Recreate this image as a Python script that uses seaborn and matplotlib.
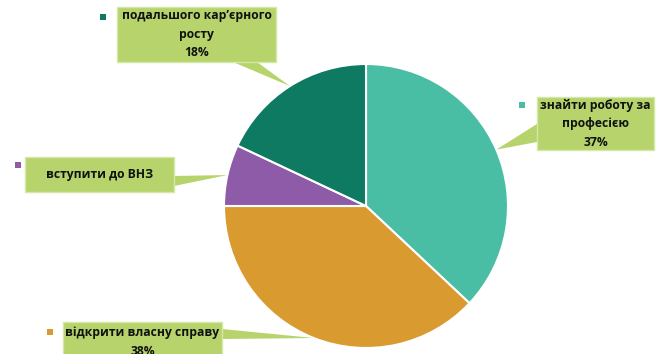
import numpy as np
import matplotlib.pyplot as plt
import seaborn as sns
from matplotlib.patches import Rectangle, Polygon

# Data
labels = ['знайти роботу за\nпрофесією', 'відкрити власну справу',
          'вступити до ВНЗ', 'подальшого кар’єрного\nросту']
values = [37, 38, 7, 18]
show_pct = [True, True, False, True]
colors = ['#4ABEA4', '#D99A2F', '#8E5BA8', '#0E7A61']

sns.set_theme(style='white')
plt.rcParams['font.family'] = ['Open Sans', 'DejaVu Sans']

W, H = 657, 354
fig = plt.figure(figsize=(6.57, 3.54), dpi=100)
ax = fig.add_axes([0, 0, 1, 1])

# pie centre / radius in pixel units
cx, cy, r = 366, H - 206, 142
wedges, _ = ax.pie(values, colors=colors, startangle=90, counterclock=False,
                   center=(cx, cy), radius=r, frame=True,
                   wedgeprops=dict(edgecolor='white', linewidth=1.5))
ax.set_xlim(0, W)
ax.set_ylim(0, H)
ax.set_aspect('equal')
ax.axis('off')

# label boxes (pixels from top-left): x0, y0, x1, y1
boxes = [(537, 97, 654, 150), (63, 322, 222, 362),
         (25, 157, 174, 192), (117, 7, 276, 62)]
bases = [((537, 124), (537, 142)), ((222, 329), (222, 339)),
         ((174, 176), (174, 186)), ((233, 62), (257, 62))]
keys = [(522, 105), (50, 332), (18, 165), (103, 17)]

box_fc = '#B6D46B'
for w, lab, v, pct, col, b, base, k in zip(wedges, labels, values, show_pct,
                                            colors, boxes, bases, keys):
    x0, y0, x1, y1 = b
    ax.add_patch(Rectangle((x0, H - y1), x1 - x0, y1 - y0, fc=box_fc,
                           ec='#D6E7A8', lw=1, zorder=4))
    mid = np.deg2rad((w.theta1 + w.theta2) / 2)
    tip = (cx + r * np.cos(mid), cy + r * np.sin(mid))
    ax.add_patch(Polygon([(base[0][0], H - base[0][1]), tip,
                          (base[1][0], H - base[1][1])],
                         closed=True, fc=box_fc, ec='none', zorder=3))
    txt = lab + ('\n%d%%' % v if pct else '')
    ax.text((x0 + x1) / 2, H - (y0 + y1) / 2, txt, ha='center', va='center',
            fontsize=8.7, fontweight='bold', color='#111111',
            linespacing=1.55, zorder=5)
    ax.scatter([k[0]], [H - k[1]], marker='s', s=14, color=col, zorder=5,
               linewidths=0)

fig.savefig('out.png', dpi=100)
